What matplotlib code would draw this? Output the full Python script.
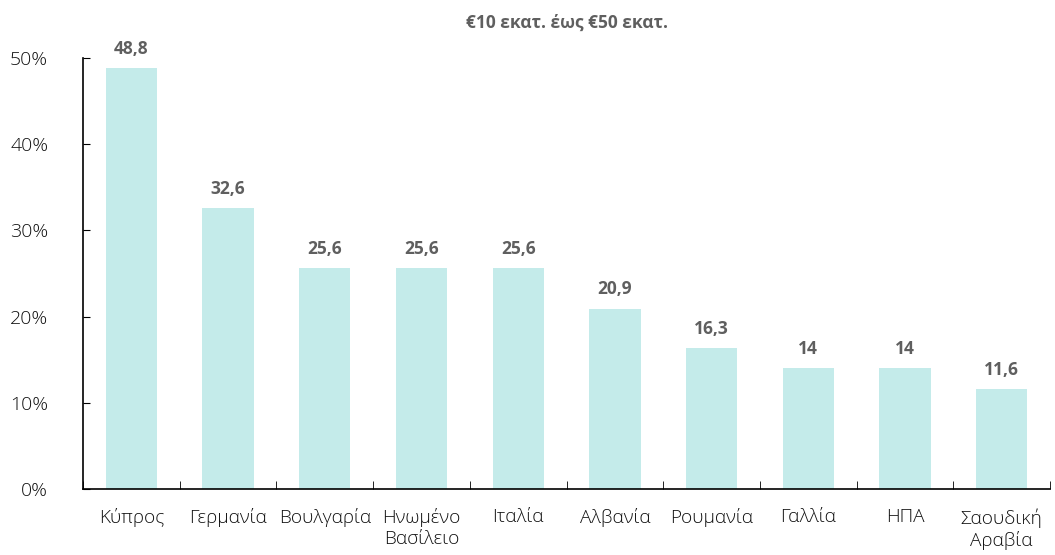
import matplotlib
matplotlib.use("Agg")
import matplotlib.pyplot as plt
import numpy as np

plt.rcParams['font.family'] = ['Open Sans', 'DejaVu Sans']

# Data
countries = ["Κύπρος", "Γερμανία", "Βουλγαρία", "Ηνωμένο\nΒασίλειο", "Ιταλία",
             "Αλβανία", "Ρουμανία", "Γαλλία", "ΗΠΑ", "Σαουδική\nΑραβία"]
values = [48.8, 32.6, 25.6, 25.6, 25.6, 20.9, 16.3, 14, 14, 11.6]
yticks = [0, 10, 20, 30, 40, 50]
title = "€10 εκατ. έως €50 εκατ."

fig = plt.figure(figsize=(10.55, 5.55), dpi=100)
ax = fig.add_axes([0.0787, 0.119, 0.9166, 0.7765])

x = np.arange(len(countries))
bars = ax.bar(x, values, width=0.53, color="#c4ebea")

for xi, v in zip(x, values):
    lab = ("%g" % v).replace(".", ",")
    ax.text(xi, v + 1.2, lab, ha="center", va="bottom", fontsize=12.5,
            fontweight="bold", color="#5f5f5f")

ax.set_xlim(-0.5, len(countries) - 0.5)
ax.set_ylim(0, 50)
ax.set_yticks(yticks)
ax.set_yticklabels(["%d%%" % t for t in yticks], fontsize=14, color="#111111",
                   fontweight="light")
ax.tick_params(axis="y", direction="in", length=5, pad=25)

ax.set_xticks(x)
ax.set_xticklabels(countries, fontsize=13.7, color="#111111", linespacing=1.2,
                   fontweight="light")
ax.set_xticks(np.arange(len(countries) + 1) - 0.5, minor=True)
ax.tick_params(axis="x", which="major", length=0, pad=14)
ax.tick_params(axis="x", which="minor", direction="in", length=6)

for s in ["top", "right"]:
    ax.spines[s].set_visible(False)
ax.spines["left"].set_linewidth(1.2)
ax.spines["bottom"].set_linewidth(1.2)

ax.set_title(title, fontsize=12.5, fontweight="bold", color="#5f5f5f", pad=22)

fig.savefig("out.png", dpi=100)
